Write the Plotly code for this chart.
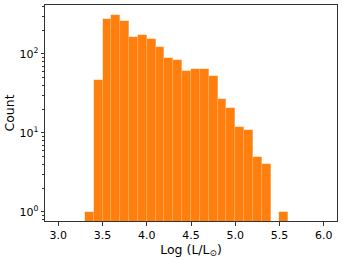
import plotly.graph_objects as go

# 直方图分箱（左边界）与计数，步长 0.1
BIN_LEFT = [3.3, 3.4, 3.5, 3.6, 3.7, 3.8, 3.9, 4.0, 4.1, 4.2, 4.3, 4.4,
            4.5, 4.6, 4.7, 4.8, 4.9, 5.0, 5.1, 5.2, 5.3, 5.4, 5.5]
COUNTS = [1, 47, 280, 314, 262, 166, 176, 155, 122, 88, 84, 61,
          65, 64, 52, 27, 21, 12, 11, 5, 4, 0, 1]
BIN_WIDTH = 0.1

X_TICKS = [3.0, 3.5, 4.0, 4.5, 5.0, 5.5, 6.0]
Y_TICKS = [1, 10, 100]
Y_TICK_TEXT = ["10<sup>0</sup>", "10<sup>1</sup>", "10<sup>2</sup>"]
Y_MINOR = [m * d for d in (0.1, 1, 10, 100) for m in range(2, 10)]

FONT = "DejaVu Sans"
AXIS_COLOR = "#333333"

centers = [b + BIN_WIDTH / 2 for b in BIN_LEFT]

fig = go.Figure()
fig.add_trace(
    go.Bar(
        x=centers, y=COUNTS, width=BIN_WIDTH,
        marker=dict(color="#ff7f0e",
                    line=dict(color="rgba(255,255,255,0.18)", width=0.5)),
        showlegend=False,
    )
)

fig.update_xaxes(
    range=[2.85, 6.15], automargin=False,
    tickvals=X_TICKS, ticktext=[f"{v:.1f}" for v in X_TICKS],
    ticks="outside", ticklen=3.5, tickcolor=AXIS_COLOR,
    showgrid=False, zeroline=False,
    showline=True, linecolor=AXIS_COLOR, linewidth=1, mirror=True,
    tickfont=dict(family=FONT, size=11, color="#000"),
    title=dict(text="Log (L/L<sub>⊙</sub>)", font=dict(family=FONT, size=12.5, color="#000"),
               standoff=3),
)
fig.update_yaxes(
    type="log", range=[-0.114, 2.62], automargin=False,
    tickvals=Y_TICKS, ticktext=Y_TICK_TEXT,
    ticks="outside", ticklen=3.5, tickcolor=AXIS_COLOR,
    minor=dict(tickvals=Y_MINOR, ticks="outside", ticklen=2, tickcolor=AXIS_COLOR),
    showgrid=False, zeroline=False,
    showline=True, linecolor=AXIS_COLOR, linewidth=1, mirror=True,
    tickfont=dict(family=FONT, size=11, color="#000"),
    title=dict(text="Count", font=dict(family=FONT, size=12.5, color="#000"), standoff=2),
)
fig.update_layout(
    width=342, height=259,
    margin=dict(l=45, r=5, t=5, b=38),
    bargap=0,
    plot_bgcolor="white", paper_bgcolor="white",
)
# 页面 body 默认有 8px 边距，去掉以对齐；隐藏工具栏
fig.write_html("out.html", config={"displayModeBar": False},
               post_script="document.body.style.margin='0';")
